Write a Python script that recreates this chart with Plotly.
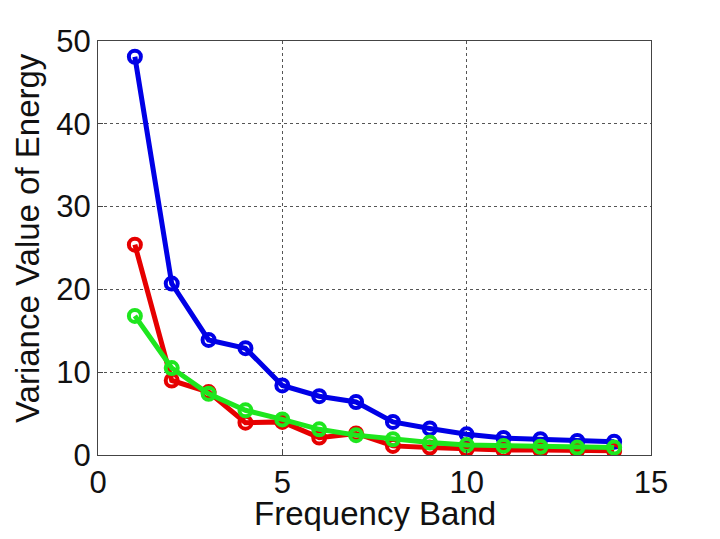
import plotly.graph_objs as go

# Frequency bands and variance values
bands = list(range(1, 15))
blue_vals = [48.1, 20.7, 13.9, 12.9, 8.4, 7.1, 6.4, 4.0, 3.2, 2.5, 2.05, 1.9, 1.7, 1.6]
red_vals = [25.4, 9.0, 7.6, 3.9, 4.0, 2.1, 2.6, 1.1, 0.9, 0.7, 0.6, 0.6, 0.6, 0.5]
green_vals = [16.8, 10.5, 7.4, 5.4, 4.3, 3.1, 2.4, 1.9, 1.5, 1.2, 1.1, 1.0, 0.9, 0.9]

x_ticks = [0, 5, 10, 15]
y_ticks = [0, 10, 20, 30, 40, 50]

series = [
    (blue_vals, '#0000e6'),
    (red_vals, '#e60000'),
    (green_vals, '#1ee61e'),
]

data = []
for vals, col in series:
    data.append(go.Scatter(
        x=bands, y=vals, mode='lines+markers',
        line=dict(color=col, width=5),
        marker=dict(symbol='circle-open', size=12, color=col, line=dict(color=col, width=4)),
        showlegend=False,
    ))

axis_common = dict(
    showline=True, linecolor='#444444', linewidth=1, mirror=True,
    showgrid=True, gridcolor='#555555', griddash='dot', gridwidth=1,
    zeroline=False, ticks='inside', ticklen=5, tickcolor='#444444',
    automargin=False,
    tickfont=dict(family='Liberation Sans, Arial', size=31, color='#111111'),
)

title_font = dict(family='Liberation Sans, Arial', size=33, color='#111111')

# page body has an 8px margin, so the figure is a bit smaller than the window
layout = go.Layout(
    width=704, height=523,
    margin=dict(l=90, r=61, t=33, b=76),
    paper_bgcolor='white', plot_bgcolor='white',
    font=dict(family='Liberation Sans, Arial', color='#111111'),
    xaxis=dict(range=[0, 15], tickvals=x_ticks, **axis_common),
    yaxis=dict(range=[0, 50], tickvals=y_ticks, **axis_common),
    # axis titles placed as annotations so they sit where the reference has them
    annotations=[
        dict(text='Frequency Band', xref='paper', yref='paper', x=0.5, y=0,
             xanchor='center', yanchor='middle', yshift=-58, showarrow=False,
             font=title_font),
        dict(text='Variance Value of Energy', xref='paper', yref='paper', x=0, y=0.5,
             xanchor='center', yanchor='middle', xshift=-71, yshift=10, textangle=-90,
             showarrow=False, font=title_font),
    ],
)

fig = go.Figure(data=data, layout=layout)
fig.write_html("out.html")
